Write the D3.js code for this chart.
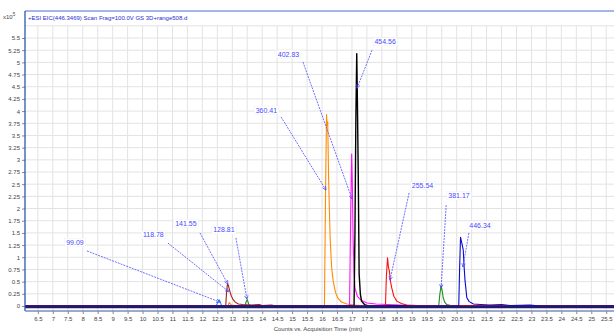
<!DOCTYPE html>
<html>
<head>
<meta charset="utf-8">
<script src="https://cdn.jsdelivr.net/npm/d3@7"></script>
<style>
  body { margin: 0; background: #fff; }
  text { font-family: "Liberation Sans", Arial, sans-serif; }
</style>
</head>
<body>
<div id="chart"></div>
<script>
// chromatogram traces, [time (min), counts x10^5]
const lightBlue = [[6.07,0],[12.45,0],[12.5,0.05],[12.56,0.13],[12.6,0.08],[12.64,0.01],[25.76,0]];
const brown = [[6.07,0],[12.78,0],[12.81,0.3],[12.84,0.46],[12.87,0.42],[12.92,0.3],[12.97,0.2],[13.03,0.13],[13.1,0.08],[13.2,0.04],[13.35,0.03],[13.6,0.02],[13.9,0.03],[14.0,0.01],[14.3,0.02],[14.5,0],[25.76,0]];
const orange = [[6.07,0],[12.85,0],[12.9,0.07],[12.97,0.02],[13.1,0.01],[16.08,0],[16.12,2.5],[16.15,3.93],[16.17,3.7],[16.19,3.78],[16.22,2.6],[16.27,1.4],[16.32,0.8],[16.37,0.52],[16.45,0.28],[16.53,0.16],[16.65,0.08],[16.83,0.04],[17.1,0.02],[17.5,0],[25.76,0]];
const green = [[6.07,0],[13.42,0],[13.47,0.1],[13.5,0.13],[13.55,0.04],[13.62,0],[19.9,0],[19.94,0.25],[19.98,0.42],[20.02,0.3],[20.05,0.17],[20.1,0.08],[20.17,0.03],[20.3,0.01],[25.76,0]];
const magenta = [[6.07,0],[16.92,0],[16.96,2.0],[16.99,3.12],[17.01,2.6],[17.04,1.34],[17.07,0.7],[17.1,0.37],[17.18,0.2],[17.27,0.14],[17.4,0.09],[17.5,0.06],[17.8,0.04],[18.2,0.03],[18.6,0.02],[19.0,0.01],[25.76,0]];
const black = [[6.07,0],[17.07,0],[17.1,1.5],[17.13,3.8],[17.16,5.18],[17.18,4.3],[17.21,2.72],[17.24,0.66],[17.28,0.25],[17.32,0.1],[17.42,0.03],[17.55,0],[25.76,0]];
const red = [[6.07,0],[18.12,0],[18.15,0.6],[18.19,0.99],[18.22,0.8],[18.25,0.72],[18.29,0.5],[18.33,0.37],[18.4,0.2],[18.5,0.1],[18.65,0.05],[18.83,0.02],[19.2,0.01],[25.76,0]];
const blue = [[6.07,0],[20.57,0],[20.6,0.8],[20.63,1.41],[20.67,1.3],[20.72,1.15],[20.75,0.8],[20.78,0.52],[20.84,0.17],[20.92,0.09],[21.06,0.04],[21.3,0.03],[21.6,0.02],[22.0,0.03],[22.3,0.01],[22.95,0.02],[23.3,0],[25.76,0]];

// peak labels: text, label centre, leader start, leader end (all in data units)
const peakLabels = ["99.09","118.78","141.55","128.81","360.41","402.83","454.56","255.54","381.17","446.34"];
const labelPos   = [[7.74,1.31],[10.36,1.46],[11.45,1.70],[12.72,1.56],[14.14,4.02],[14.88,5.17],[18.11,5.42],[19.36,2.48],[20.58,2.26],[21.28,1.66]];
const leaderFrom = [[8.14,1.13],[10.85,1.29],[11.92,1.50],[13.12,1.40],[14.63,3.88],[15.36,5.01],[17.67,5.25],[18.91,2.32],[20.15,2.07],[20.91,1.50]];
const leaderTo   = [[12.59,0.08],[12.89,0.29],[12.85,0.45],[13.49,0.14],[16.13,2.38],[17.0,2.20],[17.17,4.47],[18.27,0.53],[19.98,0.37],[20.71,0.80]];

const xTicks = d3.range(6.5, 25.51, 0.5);
const yTicks = d3.range(0, 5.51, 0.25);

const width = 614, height = 333;
const frame = {left: 25, right: 614, top: 11, bottom: 311};

const x = d3.scaleLinear().domain([6.07, 25.76]).range([frame.left, frame.right]);
const y = d3.scaleLinear().domain([0, 5.5]).range([306, 38]);

const svg = d3.select("#chart").append("svg")
    .attr("width", width)
    .attr("height", height);

svg.append("rect").attr("width", width).attr("height", height).attr("fill", "#fff");

// grid
svg.append("g").selectAll("line")
   .data(xTicks).enter().append("line")
   .attr("x1", d => x(d)).attr("x2", d => x(d))
   .attr("y1", y(5.75)).attr("y2", frame.bottom)
   .attr("stroke", "#e3e3e3").attr("stroke-width", 1);

svg.append("g").selectAll("line")
   .data(d3.range(0.25, 5.76, 0.25)).enter().append("line")
   .attr("x1", frame.left).attr("x2", frame.right)
   .attr("y1", d => y(d)).attr("y2", d => y(d))
   .attr("stroke", "#e3e3e3").attr("stroke-width", 1);

// y axis labels
const yAxis = d3.axisLeft(y).tickValues(yTicks).tickSize(3).tickPadding(2)
    .tickFormat(d => d3.format("~g")(+d.toFixed(2)));
svg.append("g")
   .attr("transform", "translate(" + frame.left + ",0)")
   .call(yAxis)
   .call(g => g.select(".domain").remove())
   .call(g => g.selectAll("line").attr("stroke", "#888"))
   .call(g => g.selectAll("text").attr("font-size", "6px").attr("fill", "#444"));

// x axis labels
const xAxis = d3.axisBottom(x).tickValues(xTicks).tickSize(3).tickPadding(3)
    .tickFormat(d3.format("~g"));
svg.append("g")
   .attr("transform", "translate(0," + frame.bottom + ")")
   .call(xAxis)
   .call(g => g.select(".domain").remove())
   .call(g => g.selectAll("line").attr("stroke", "#888"))
   .call(g => g.selectAll("text").attr("font-size", "6px").attr("fill", "#444"));

// traces
const line = d3.line().x(d => x(d[0])).y(d => y(d[1]));
const traces = [
  {data: green, color: "#1f8f1f"},
  {data: lightBlue, color: "#1e90ff"},
  {data: brown, color: "#a3221e"},
  {data: orange, color: "#ff8c00"},
  {data: magenta, color: "#ff10ff"},
  {data: black, color: "#000000"},
  {data: red, color: "#ff1010"},
  {data: blue, color: "#0a0ad0"}
];
svg.append("g").selectAll("path")
   .data(traces).enter().append("path")
   .attr("d", d => line(d.data))
   .attr("fill", "none")
   .attr("stroke", d => d.color)
   .attr("stroke-width", d => d.color === "#000000" ? 1.4 : 1.1)
   .attr("stroke-linejoin", "round");

// zero line
svg.append("line")
   .attr("x1", frame.left).attr("x2", frame.right)
   .attr("y1", y(0) + 1).attr("y2", y(0) + 1)
   .attr("stroke", "#1c1c6e").attr("stroke-width", 2.5);

// frame
svg.append("line")
   .attr("x1", frame.left).attr("x2", frame.right)
   .attr("y1", frame.top).attr("y2", frame.top)
   .attr("stroke", "#4a6fd0").attr("stroke-width", 1);
svg.append("line")
   .attr("x1", frame.left).attr("x2", frame.left)
   .attr("y1", frame.top).attr("y2", frame.bottom)
   .attr("stroke", "#2d55b5").attr("stroke-width", 1.3);
svg.append("line")
   .attr("x1", frame.left).attr("x2", frame.right)
   .attr("y1", frame.bottom).attr("y2", frame.bottom)
   .attr("stroke", "#7d8db8").attr("stroke-width", 1.5);

// title and multiplier
svg.append("text")
   .attr("x", frame.left + 3).attr("y", 20)
   .attr("font-size", "6px").attr("fill", "#2b2bd0")
   .text("+ESI EIC(446.3469) Scan Frag=100.0V GS 3D+range508.d");

const mult = svg.append("text").attr("x", 3).attr("y", 19).attr("font-size", "6px").attr("fill", "#444");
mult.append("tspan").text("x10");
mult.append("tspan").attr("dy", -3).attr("font-size", "4.5px").text("5");

// axis title
svg.append("text")
   .attr("x", 318).attr("y", 331)
   .attr("text-anchor", "middle")
   .attr("font-size", "6px").attr("fill", "#444")
   .text("Counts vs. Acquisition Time (min)");

// peak annotations
const ann = svg.append("g");
peakLabels.forEach((lab, i) => {
  const x1 = x(leaderFrom[i][0]), y1 = y(leaderFrom[i][1]);
  const x2 = x(leaderTo[i][0]), y2 = y(leaderTo[i][1]);
  ann.append("line")
     .attr("x1", x1).attr("y1", y1).attr("x2", x2).attr("y2", y2)
     .attr("stroke", "#4d4dff").attr("stroke-width", 0.8)
     .attr("stroke-dasharray", "2,1");
  // open arrow head
  const a = Math.atan2(y2 - y1, x2 - x1), len = 4, sp = 0.45;
  ann.append("path")
     .attr("d", "M" + (x2 - len * Math.cos(a - sp)) + "," + (y2 - len * Math.sin(a - sp)) +
                "L" + x2 + "," + y2 +
                "L" + (x2 - len * Math.cos(a + sp)) + "," + (y2 - len * Math.sin(a + sp)))
     .attr("fill", "none").attr("stroke", "#4d4dff").attr("stroke-width", 0.8);

  const t = ann.append("text")
     .attr("x", x(labelPos[i][0])).attr("y", y(labelPos[i][1]) + 2.5)
     .attr("text-anchor", "middle")
     .attr("font-size", "7px").attr("fill", "#4a4aff")
     .text(lab);
  const bb = t.node().getBBox();
  ann.insert("rect", () => t.node())
     .attr("x", bb.x - 1.5).attr("y", bb.y - 0.5)
     .attr("width", bb.width + 3).attr("height", bb.height + 1)
     .attr("fill", "#fff").attr("stroke", "#f0f0f0").attr("stroke-width", 0.5);
});
</script>
</body>
</html>
